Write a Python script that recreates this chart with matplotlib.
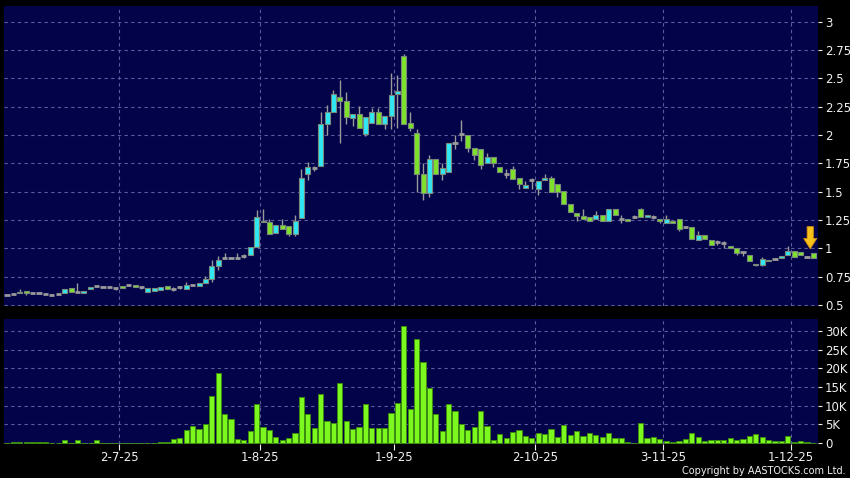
import matplotlib.pyplot as plt
from matplotlib.ticker import FuncFormatter, MultipleLocator

# %% data
open_ = [0.59, 0.597, 0.603, 0.621, 0.609, 0.609, 0.597, 0.591, 0.597, 0.603,
         0.645, 0.615, 0.603, 0.639, 0.666, 0.657, 0.654, 0.648, 0.669, 0.675,
         0.678, 0.657, 0.615, 0.623, 0.632, 0.665, 0.638, 0.656, 0.644, 0.68,
         0.67, 0.697, 0.726, 0.84, 0.91, 0.91, 0.91, 0.93, 0.94, 1.01,
         1.244, 1.23, 1.132, 1.21, 1.2, 1.13, 1.27, 1.66, 1.71, 1.73,
         2.096, 2.2, 2.335, 2.3, 2.15, 2.19, 2.01, 2.11, 2.2, 2.1,
         2.17, 2.36, 2.7, 2.11, 2.02, 1.66, 1.49, 1.785, 1.66, 1.67,
         1.93, 2.01, 2.0, 1.89, 1.88, 1.75, 1.81, 1.72, 1.66, 1.7,
         1.62, 1.53, 1.6, 1.52, 1.6, 1.625, 1.57, 1.504, 1.393, 1.316,
         1.287, 1.275, 1.26, 1.297, 1.245, 1.345, 1.26, 1.26, 1.275, 1.345,
         1.275, 1.275, 1.26, 1.225, 1.245, 1.26, 1.185, 1.185, 1.07, 1.12,
         1.07, 1.055, 1.05, 1.02, 1.0, 0.965, 0.945, 0.865, 0.855, 0.895,
         0.905, 0.91, 0.945, 0.975, 0.97, 0.925, 0.96]
high = [0.59, 0.60, 0.636, 0.621, 0.612, 0.612, 0.60, 0.594, 0.60, 0.639,
        0.645, 0.69, 0.621, 0.657, 0.67, 0.66, 0.657, 0.65, 0.669, 0.678,
        0.678, 0.665, 0.65, 0.65, 0.656, 0.665, 0.656, 0.665, 0.70, 0.683,
        0.69, 0.755, 0.90, 0.93, 0.955, 0.925, 0.955, 0.95, 1.01, 1.34,
        1.35, 1.26, 1.203, 1.26, 1.2, 1.29, 1.70, 1.76, 1.73, 2.2,
        2.27, 2.4, 2.49, 2.38, 2.19, 2.26, 2.16, 2.24, 2.24, 2.17,
        2.55, 2.53, 2.72, 2.2, 2.05, 1.75, 1.82, 1.785, 1.75, 1.93,
        2.0, 2.13, 2.0, 1.89, 1.88, 1.84, 1.81, 1.72, 1.7, 1.73,
        1.62, 1.59, 1.62, 1.59, 1.66, 1.64, 1.57, 1.504, 1.393, 1.316,
        1.35, 1.275, 1.33, 1.297, 1.345, 1.345, 1.29, 1.26, 1.29, 1.36,
        1.29, 1.29, 1.26, 1.29, 1.245, 1.26, 1.19, 1.185, 1.15, 1.12,
        1.07, 1.07, 1.06, 1.02, 1.0, 0.97, 0.945, 0.865, 0.92, 0.895,
        0.91, 0.93, 1.02, 0.975, 0.97, 0.93, 0.96]
low = [0.59, 0.595, 0.603, 0.59, 0.606, 0.606, 0.595, 0.588, 0.595, 0.603,
       0.612, 0.612, 0.603, 0.639, 0.66, 0.654, 0.65, 0.635, 0.651, 0.672,
       0.66, 0.64, 0.615, 0.623, 0.632, 0.644, 0.62, 0.64, 0.644, 0.677,
       0.67, 0.697, 0.70, 0.81, 0.905, 0.905, 0.905, 0.91, 0.94, 1.01,
       1.23, 1.124, 1.132, 1.167, 1.11, 1.11, 1.27, 1.6, 1.68, 1.73,
       2.0, 2.2, 1.93, 2.1, 2.08, 2.06, 1.99, 2.11, 2.1, 2.05,
       2.05, 2.06, 2.096, 2.04, 1.5, 1.43, 1.45, 1.66, 1.6, 1.67,
       1.88, 1.95, 1.85, 1.78, 1.7, 1.75, 1.72, 1.67, 1.62, 1.61,
       1.52, 1.53, 1.52, 1.47, 1.6, 1.5, 1.45, 1.393, 1.317, 1.245,
       1.26, 1.245, 1.26, 1.245, 1.245, 1.297, 1.22, 1.245, 1.27, 1.275,
       1.275, 1.26, 1.22, 1.225, 1.22, 1.15, 1.18, 1.08, 1.07, 1.08,
       1.025, 1.03, 1.0, 1.0, 0.94, 0.93, 0.89, 0.84, 0.84, 0.885,
       0.9, 0.91, 0.945, 0.925, 0.94, 0.92, 0.915]
close = [0.59, 0.597, 0.618, 0.606, 0.609, 0.609, 0.597, 0.591, 0.597, 0.639,
         0.612, 0.615, 0.621, 0.657, 0.666, 0.657, 0.654, 0.648, 0.651, 0.675,
         0.66, 0.657, 0.65, 0.65, 0.656, 0.644, 0.638, 0.656, 0.68, 0.68,
         0.69, 0.726, 0.84, 0.894, 0.91, 0.91, 0.91, 0.93, 1.01, 1.28,
         1.23, 1.124, 1.203, 1.167, 1.13, 1.245, 1.617, 1.715, 1.71, 2.096,
         2.2, 2.36, 2.3, 2.16, 2.19, 2.06, 2.16, 2.2, 2.1, 2.17,
         2.35, 2.39, 2.096, 2.06, 1.66, 1.49, 1.785, 1.66, 1.705, 1.93,
         1.93, 2.01, 1.89, 1.82, 1.74, 1.81, 1.75, 1.67, 1.66, 1.61,
         1.57, 1.555, 1.6, 1.59, 1.625, 1.5, 1.5, 1.393, 1.317, 1.287,
         1.26, 1.245, 1.297, 1.245, 1.345, 1.297, 1.26, 1.245, 1.275, 1.275,
         1.29, 1.275, 1.245, 1.26, 1.22, 1.17, 1.185, 1.08, 1.12, 1.08,
         1.025, 1.055, 1.05, 1.0, 0.96, 0.965, 0.89, 0.855, 0.905, 0.885,
         0.905, 0.93, 0.975, 0.925, 0.94, 0.925, 0.915]
volume = [0, 350, 350, 350, 350, 200, 350, 100, 100, 800,
          100, 700, 100, 100, 700, 100, 50, 50, 100, 100,
          50, 100, 100, 100, 300, 300, 1000, 1300, 3600, 4500,
          3800, 5100, 12500, 18750, 7800, 6400, 1200, 900, 3300, 10500,
          4200, 3600, 1700, 800, 1300, 2700, 12300, 7800, 3900, 13000,
          5900, 5300, 16000, 5900, 3800, 4300, 10500, 3900, 3900, 3900,
          8000, 10700, 31400, 9200, 27800, 21700, 14600, 7700, 3300, 10500,
          8700, 5200, 3500, 4300, 8500, 4500, 900, 2400, 1400, 3000,
          3400, 2000, 1300, 2700, 2400, 3700, 1600, 4900, 2100, 3300,
          1900, 2600, 2200, 1600, 2700, 1300, 1300, 300, 100, 5300,
          1400, 1600, 1100, 600, 350, 600, 1100, 2600, 1500, 500,
          800, 800, 900, 1300, 800, 1100, 1800, 2300, 1600, 900,
          600, 600, 1900, 300, 500, 200, 100]

tick_idx = [17, 39, 60, 82, 102, 122]
tick_labels = ['2-7-25', '1-8-25', '1-9-25', '2-10-25', '3-11-25', '1-12-25']

# %% style
bg = '#03034a'
grid_c = '#5c5c98'
up_c = '#30e8f4'
down_c = '#7ee22a'
wick_c = '#9a9a9a'
txt_c = '#f0f0f0'

n = len(close)
x = list(range(n))

fig = plt.figure(figsize=(8.5, 4.78), dpi=100, facecolor='black')
ax1 = fig.add_axes([0.0047, 0.3598, 0.9577, 0.6276])
ax2 = fig.add_axes([0.0047, 0.0711, 0.9577, 0.2615])

grid_x = [t + 0.5 for t in tick_idx]
for ax in (ax1, ax2):
    ax.set_facecolor(bg)
    for s in ax.spines.values():
        s.set_visible(False)
    ax.set_xlim(-0.47, 126.72)
    ax.yaxis.tick_right()
    ax.tick_params(axis='y', colors=txt_c, labelsize=8.5, length=3, width=0.8, pad=2)
    ax.grid(axis='y', color=grid_c, linestyle=(0, (3, 3)), linewidth=0.8)
    for gx in grid_x:
        ax.axvline(gx, color=grid_c, linestyle=(0, (3, 3)), linewidth=0.8, zorder=0)
    ax.set_axisbelow(True)

# %% candles
ax1.vlines(x, low, high, color=wick_c, linewidth=1.0, zorder=2)
for i in x:
    o, c = open_[i], close[i]
    if c == o:
        ax1.hlines(c, i - 0.4, i + 0.4, color=wick_c, linewidth=2.0, zorder=3)
    else:
        col = up_c if c > o else down_c
        ax1.bar(i, abs(c - o), bottom=min(o, c), width=0.78, color=col,
                edgecolor='#7a8a7a', linewidth=0.8, zorder=3)

ax1.set_ylim(0.49, 3.14)
ax1.yaxis.set_major_locator(MultipleLocator(0.25))
ax1.yaxis.set_major_formatter(FuncFormatter(lambda v, p: '%g' % v))
ax1.set_xticks([])

# marker arrow over the last session
ax1.annotate('', xy=(x[-1] - 0.5, high[-1] + 0.035), xytext=(0, 16),
             textcoords='offset points',
             arrowprops=dict(arrowstyle='simple,head_length=0.75,head_width=0.95,tail_width=0.45',
                             mutation_scale=10, fc='#f7c21a', ec='#d08a10', lw=0.6,
                             shrinkA=0, shrinkB=0))

# %% volume
ax2.bar(x, volume, width=0.8, color='#7cf81e', edgecolor='#3c8c10', linewidth=0.7, zorder=3)
ax2.set_ylim(-270, 33200)
ax2.yaxis.set_major_locator(MultipleLocator(5000))
ax2.yaxis.set_major_formatter(FuncFormatter(lambda v, p: '0' if v == 0 else '%dK' % (v / 1000)))
ax2.set_xticks(grid_x)
ax2.set_xticklabels(tick_labels)
ax2.tick_params(axis='x', colors=txt_c, labelsize=8.5, length=4, width=0.8, pad=1)

fig.text(0.995, 0.004, 'Copyright by AASTOCKS.com Ltd.', color=txt_c, fontsize=7,
         ha='right', va='bottom')

plt.savefig('out.png', dpi=100, facecolor='black')
